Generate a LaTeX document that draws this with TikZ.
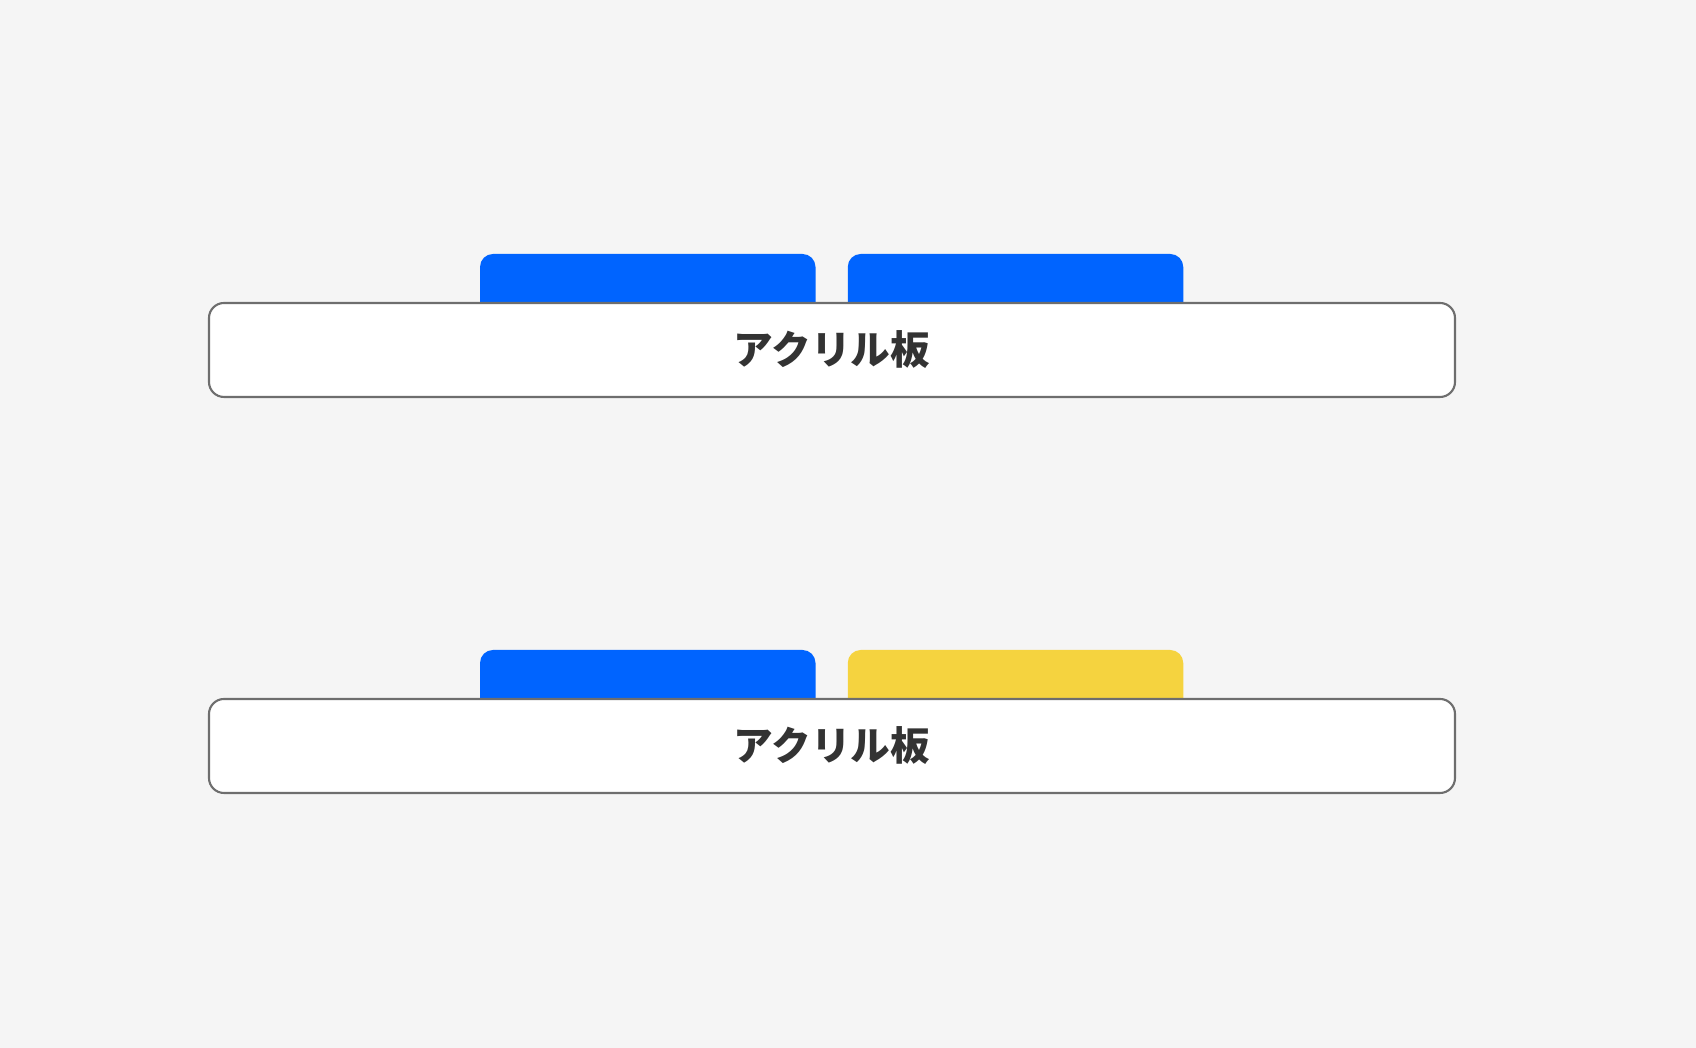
\documentclass[tikz,border=0pt]{standalone}
\usepackage{fontspec}
\newfontfamily\jpfont{Noto Sans CJK JP}
\definecolor{bgcol}{HTML}{F5F5F5}
\definecolor{tabblue}{HTML}{0064FF}
\definecolor{tabyellow}{HTML}{F5D33F}
\definecolor{edgegray}{HTML}{6E6E6E}
\definecolor{textgray}{HTML}{333333}
\begin{document}
\begin{tikzpicture}[plate/.style={rectangle,draw=edgegray,line width=0.6pt,fill=white,rounded corners=0.15cm,minimum width=12.46cm,minimum height=0.94cm,inner sep=0pt,text=textgray,font=\jpfont\bfseries\fontsize{11.3}{13}\selectfont},tab/.style={rectangle,rounded corners=0.13cm,minimum width=3.355cm,minimum height=0.69cm,inner sep=0pt}]
      \fill [bgcol] (0,0) rectangle (16.96,10.48);
      \useasboundingbox (0,0) rectangle (16.96,10.48);
      % upper pair
      \node (t1a) at (6.4775,7.595) [tab,fill=tabblue] {};
      \node (t1b) at (10.155,7.595) [tab,fill=tabblue] {};
      \node (p1) at (8.32,6.98) [plate] {アクリル板};
      % lower pair
      \node (t2a) at (6.4775,3.635) [tab,fill=tabblue] {};
      \node (t2b) at (10.155,3.635) [tab,fill=tabyellow] {};
      \node (p2) at (8.32,3.02) [plate] {アクリル板};
    \end{tikzpicture}
\end{document}
